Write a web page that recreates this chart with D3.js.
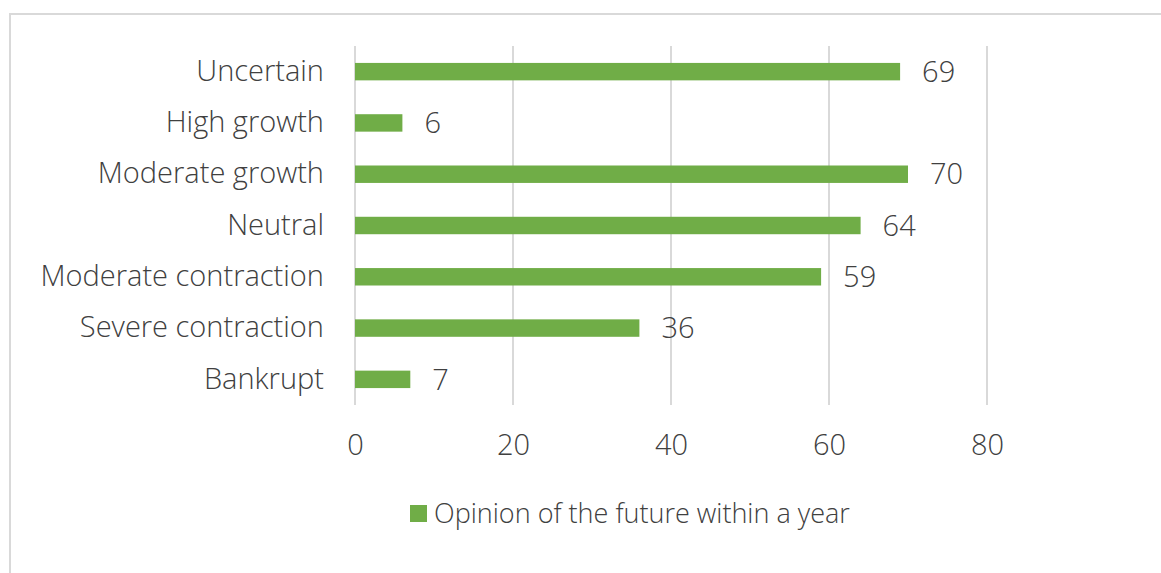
<!DOCTYPE html>
<html>
<head>
<meta charset="utf-8">
<script src="https://cdn.jsdelivr.net/npm/d3@7"></script>
<style>
  body { margin: 0; background: #fff; }
  text { font-family: "Open Sans", Lato, sans-serif; font-weight: 300; fill: #404040; }
</style>
</head>
<body>
<div id="chart"></div>
<script>
// categories top to bottom, as they appear
var categories = ["Uncertain", "High growth", "Moderate growth", "Neutral",
                  "Moderate contraction", "Severe contraction", "Bankrupt"];
var values = [69, 6, 70, 64, 59, 36, 7];
var tickValues = [0, 20, 40, 60, 80];
var seriesName = "Opinion of the future within a year";

var width = 1161, height = 573;
var green = "#70ad47";
var fs = 29;

var svg = d3.select("#chart").append("svg")
    .attr("width", width)
    .attr("height", height);

// outer chart border (runs off the right / bottom edge)
svg.append("rect")
    .attr("x", 10).attr("y", 14)
    .attr("width", width).attr("height", height)
    .attr("fill", "none")
    .attr("stroke", "#d9d9d9")
    .attr("stroke-width", 2);

var x = d3.scaleLinear().domain([0, 80]).range([355, 987]);
var y = d3.scaleBand().domain(categories).range([46, 405]).paddingInner(0.66).paddingOuter(0.33);

// gridlines
svg.append("g").selectAll("line")
    .data(tickValues)
    .join("line")
    .attr("x1", d => x(d)).attr("x2", d => x(d))
    .attr("y1", 46).attr("y2", 405)
    .attr("stroke", "#d9d9d9")
    .attr("stroke-width", 2);

// x axis labels
var xAxis = d3.axisBottom(x).tickValues(tickValues).tickSize(0).tickPadding(0);
var gx = svg.append("g").attr("transform", "translate(0,445)").call(xAxis);
gx.select(".domain").remove();
gx.selectAll("text")
    .attr("font-size", fs)
    .attr("dy", "0.35em")
    .attr("font-family", null);

// y axis labels
var yAxis = d3.axisLeft(y).tickSize(0).tickPadding(0);
var gy = svg.append("g").attr("transform", "translate(324,0)").call(yAxis);
gy.select(".domain").remove();
gy.selectAll("text").attr("font-size", fs).attr("font-family", null);

// bars
svg.append("g").selectAll("rect")
    .data(values)
    .join("rect")
    .attr("x", x(0))
    .attr("y", (d, i) => y(categories[i]))
    .attr("width", d => x(d) - x(0))
    .attr("height", y.bandwidth())
    .attr("fill", green);

// value labels
svg.append("g").selectAll("text")
    .data(values)
    .join("text")
    .attr("x", d => x(d) + 22)
    .attr("y", (d, i) => y(categories[i]) + y.bandwidth() / 2)
    .attr("dy", "0.35em")
    .attr("font-size", fs)
    .text(d => d);

// legend
var legend = svg.append("g").attr("transform", "translate(410,505)");
legend.append("rect").attr("width", 17).attr("height", 17).attr("fill", green);
legend.append("text")
    .attr("x", 24).attr("y", 8.5).attr("dy", "0.35em")
    .attr("font-size", 27)
    .text(seriesName);
</script>
</body>
</html>
